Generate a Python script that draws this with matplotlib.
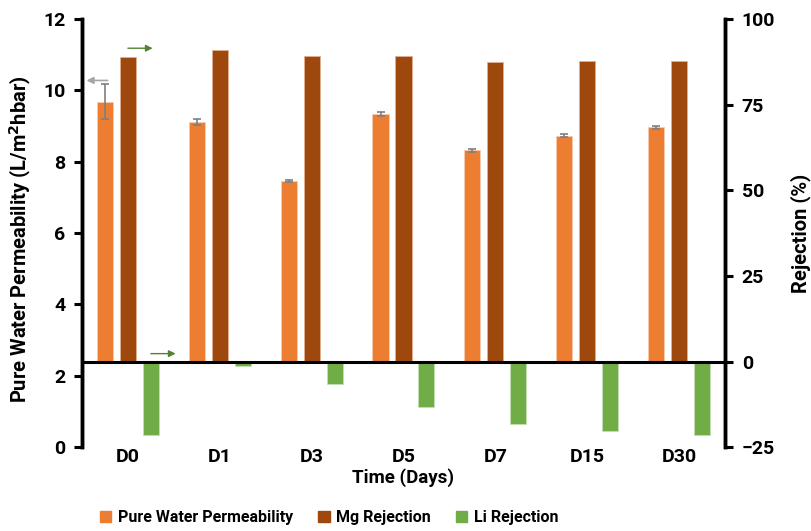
import numpy as np
import matplotlib.pyplot as plt
from matplotlib.patches import Patch

days = ["D0", "D1", "D3", "D5", "D7", "D15", "D30"]
permeability = [9.69, 9.11, 7.45, 9.33, 8.32, 8.73, 8.97]
permeability_err = [0.50, 0.08, 0.03, 0.06, 0.05, 0.04, 0.04]
mg_rejection = [89.0, 90.9, 89.1, 89.1, 87.6, 87.9, 87.9]
li_rejection = [-21.5, -1.2, -6.5, -13.3, -18.2, -20.4, -21.4]

orange = "#ED7D31"
brown = "#9E480E"
green = "#70AD47"

plt.rcParams['font.family'] = ['Roboto', 'DejaVu Sans']
plt.rcParams['font.weight'] = 'bold'

fig = plt.figure(figsize=(8.11, 5.31), dpi=100)
ax = fig.add_axes([0.101, 0.158, 0.793, 0.806])
ax2 = ax.twinx()

ax.set_xlim(-0.5, len(days) - 0.5)
ax.set_ylim(0, 12)
ax.set_yticks(range(0, 13, 2))
ax2.set_ylim(-25, 100)
ax2.set_yticks(range(-25, 101, 25))

# permeability bars rise from the rejection zero line (2.4 on the left scale)
base = 12 * 25 / 125

x = np.arange(len(days))
w = 0.175
off = 0.25

ax.bar(x - off, np.array(permeability) - base, w, bottom=base, color=orange,
       edgecolor="#F8CBAD", linewidth=0.6, yerr=permeability_err,
       error_kw=dict(ecolor="#7F7F7F", elinewidth=1.2, capsize=3, capthick=1.2))
ax2.bar(x, mg_rejection, w, color=brown, edgecolor="#E0B090", linewidth=0.6)
ax2.bar(x + off, li_rejection, w, color=green, edgecolor="#C5E0B4", linewidth=0.6)
ax2.axhline(0, color="black", linewidth=2.2, zorder=5)

for a in (ax, ax2):
    a.spines['top'].set_visible(False)
    a.spines['bottom'].set_visible(False)
    a.spines['left'].set_linewidth(2.5)
    a.spines['right'].set_linewidth(2.5)
    a.tick_params(axis='y', length=6, width=2.2, labelsize=14, pad=6)

ax.set_xticks(x)
ax.set_xticklabels(days, fontsize=14, fontweight='bold')
ax.tick_params(axis='x', length=0, pad=1)

ax.set_ylabel("Pure Water Permeability (L/m$^\\mathbf{2}$hbar)", fontsize=14.5, fontweight='bold')
ax.yaxis.set_label_coords(-0.076, 0.486)
ax2.set_ylabel("Rejection (%)", fontsize=14.5, fontweight='bold', labelpad=11)
ax.set_xlabel("Time (Days)", fontsize=13.5, fontweight='bold', labelpad=1)

# arrows marking which axis each series belongs to
ax.annotate("", xy=(-0.48, 10.28), xytext=(-0.19, 10.28),
            arrowprops=dict(arrowstyle="-|>", color="#A6A6A6", lw=1.2, mutation_scale=10))
ax2.annotate("", xy=(0.30, 91.5), xytext=(-0.03, 91.5),
             arrowprops=dict(arrowstyle="-|>", color="#548235", lw=1.0, mutation_scale=10))
ax2.annotate("", xy=(0.55, 2.3), xytext=(0.22, 2.3),
             arrowprops=dict(arrowstyle="-|>", color="#548235", lw=1.0, mutation_scale=10))

handles = [Patch(color=orange, label="Pure Water Permeability"),
           Patch(color=brown, label="Mg Rejection"),
           Patch(color=green, label="Li Rejection")]
fig.legend(handles=handles, loc='center', bbox_to_anchor=(0.406, 0.026), ncol=3,
           frameon=False, prop=dict(size=11.5, weight='bold'),
           handlelength=0.7, handleheight=0.7, handletextpad=0.4, columnspacing=1.6)

fig.savefig("out.png", dpi=100)
